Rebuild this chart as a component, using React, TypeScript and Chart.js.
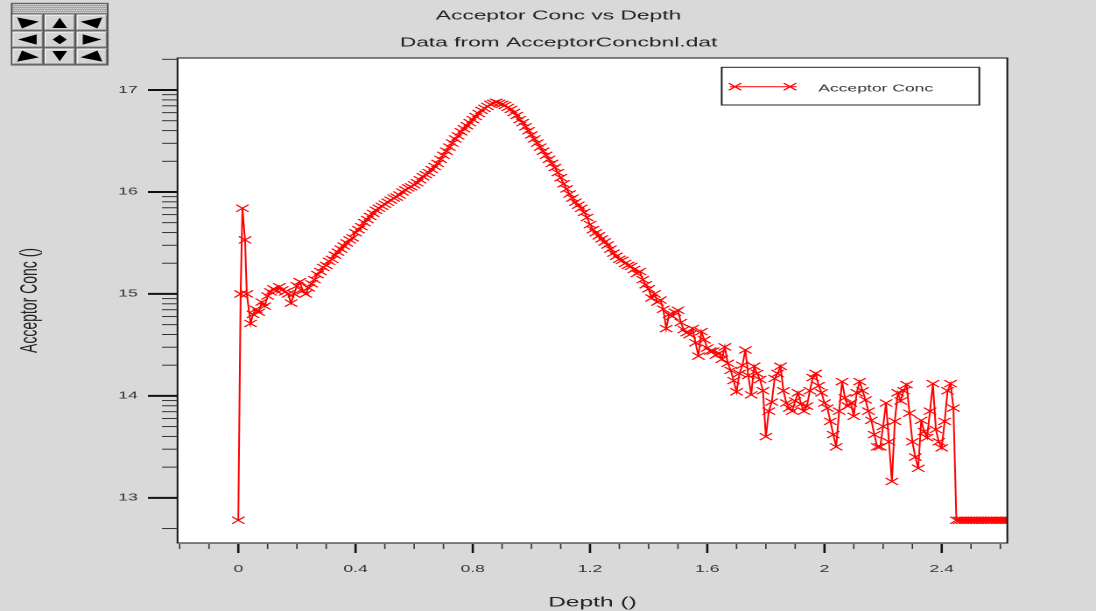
import { useEffect, useRef } from "react";
import { Chart, registerables } from "chart.js";

Chart.register(...registerables);

// ---------- text ----------
const TITLE = "Acceptor Conc vs Depth";
const SUBTITLE = "Data from AcceptorConcbnl.dat";
const SERIES_LABEL = "Acceptor Conc";
const X_TITLE = "Depth ()";
const Y_TITLE = "Acceptor Conc ()";

// ---------- axes ----------
const X_MIN = -0.2074;
const X_MAX = 2.6238;
const Y_MIN = 12.557;
const Y_MAX = 17.314;
const X_MAJOR_TICKS = [0, 0.4, 0.8, 1.2, 1.6, 2, 2.4];
const X_TICK_LABELS = ["0", "0.4", "0.8", "1.2", "1.6", "2", "2.4"];
const X_MINOR_TICKS = [-0.2, -0.1, 0.1, 0.2, 0.3, 0.5, 0.6, 0.7, 0.9, 1.0, 1.1, 1.3, 1.4, 1.5, 1.7, 1.8, 1.9, 2.1, 2.2, 2.3, 2.5, 2.6];
const Y_MAJOR_TICKS = [13, 14, 15, 16, 17];
const Y_TICK_LABELS = ["13", "14", "15", "16", "17"];
const Y_MINOR_DECADES = [13, 14, 15, 16];
const Y_MINOR_MULTIPLES = [2, 3, 4, 5, 6, 7, 8, 9];
const Y_EXTRA_MINOR = [12 + Math.log10(5), 17 + Math.log10(2)];

// ---------- data (log10 of acceptor concentration vs depth) ----------
const HEAD_DEPTH = [0, 0.008, 0.014, 0.023, 0.029, 0.042];
const HEAD_CONC = [12.78, 15.0, 15.84, 15.53, 15.0, 14.71];

const BODY_START = 0.05;
const BODY_STEP = 0.01;
const BODY_CONC = [
  14.80, 14.85, 14.82, 14.92, 14.88, 14.98, 15.02, 15.05, 15.03, 15.07,
  15.04, 15.02, 15.00, 14.91, 15.00, 15.08, 15.12, 15.03, 15.00, 15.06,
  15.10, 15.14, 15.19, 15.22, 15.26, 15.28, 15.32, 15.34, 15.38, 15.41,
  15.44, 15.47, 15.50, 15.53, 15.55, 15.60, 15.63, 15.66, 15.70, 15.73,
  15.76, 15.79, 15.82, 15.84, 15.86, 15.88, 15.90, 15.92, 15.94, 15.95,
  15.97, 16.00, 16.02, 16.04, 16.05, 16.07, 16.09, 16.12, 16.15, 16.17,
  16.19, 16.22, 16.25, 16.28, 16.32, 16.36, 16.40, 16.44, 16.48, 16.52,
  16.55, 16.59, 16.62, 16.65, 16.68, 16.71, 16.74, 16.77, 16.80, 16.82,
  16.84, 16.86, 16.87, 16.88, 16.87, 16.86, 16.85, 16.83, 16.81, 16.78,
  16.75, 16.71, 16.68, 16.64, 16.60, 16.56, 16.52, 16.48, 16.44, 16.40,
  16.36, 16.32, 16.28, 16.24, 16.19, 16.14, 16.08, 16.03, 15.98, 15.94,
  15.90, 15.87, 15.84, 15.80, 15.75, 15.68, 15.63, 15.60, 15.57, 15.54,
  15.51, 15.48, 15.44, 15.40, 15.37, 15.34, 15.33, 15.30, 15.28, 15.27,
  15.24, 15.20, 15.22, 15.14, 15.09, 15.05, 14.96, 15.00, 14.92, 14.94,
  14.85, 14.66, 14.80, 14.78, 14.82, 14.84, 14.72, 14.65, 14.62, 14.60,
  14.66, 14.52, 14.39, 14.63, 14.55, 14.47, 14.44, 14.44, 14.40, 14.42,
  14.36, 14.48, 14.32, 14.25, 14.15, 14.04, 14.22, 14.30, 14.45, 14.20,
  14.01, 14.29, 14.22, 14.16, 14.05, 13.60, 13.85, 13.94, 14.17, 14.22,
  14.29, 14.05, 13.93, 13.88, 13.85, 13.95, 14.03, 13.92, 13.85, 13.90,
  14.05, 14.18, 14.22, 14.10, 14.03, 13.93, 13.88, 13.75, 13.62, 13.50,
  13.85, 14.14, 13.98, 13.90, 13.93, 13.80, 14.03, 14.14, 14.05, 13.96,
  13.85, 13.76, 13.62, 13.50, 13.50, 13.70, 13.93, 13.55, 13.16, 13.75,
  14.03, 13.95, 14.05, 14.11, 13.83, 13.55, 13.40, 13.29, 13.76, 13.65,
  13.59, 13.85, 14.12, 13.67, 13.55, 13.49, 13.75, 14.05, 14.12, 13.88,
];

const TAIL_START = 2.45;
const TAIL_STEP = 0.01;
const TAIL_CONC = [
  12.78, 12.78, 12.78, 12.78, 12.78, 12.78, 12.78, 12.78, 12.78, 12.78,
  12.78, 12.78, 12.78, 12.78, 12.78, 12.78, 12.78, 12.78, 12.78, 12.78,
];

// ---------- look ----------
const W_INT = 626; // internal canvas width, CSS-stretched to 1096
const H = 611;
const S = 1096 / W_INT;
const BG = "#d9d9d9";
const RED = "#ff0000";
const FONT = '"Liberation Sans", Arial, Helvetica, sans-serif';

function buildPoints() {
  const pts: { x: number; y: number }[] = [];
  HEAD_DEPTH.forEach((d, i) => pts.push({ x: d, y: HEAD_CONC[i] }));
  BODY_CONC.forEach((v, i) => pts.push({ x: +(BODY_START + i * BODY_STEP).toFixed(4), y: v }));
  TAIL_CONC.forEach((v, i) => pts.push({ x: +(TAIL_START + i * TAIL_STEP).toFixed(4), y: v }));
  return pts;
}

function drawCrossRot(ctx: CanvasRenderingContext2D, x: number, y: number, r: number) {
  const o = r * Math.SQRT1_2;
  ctx.beginPath();
  ctx.moveTo(x - o, y - o);
  ctx.lineTo(x + o, y + o);
  ctx.moveTo(x - o, y + o);
  ctx.lineTo(x + o, y - o);
  ctx.stroke();
}

function drawNav(ctx: CanvasRenderingContext2D) {
  const cols = [11.7, 43.7, 75.7, 107.7].map((v) => v / S);
  const rows = [14, 31, 48, 65];
  const x0 = cols[0];
  const x1 = cols[3];
  // title bar (dotted)
  ctx.fillStyle = "#a5a5a5";
  ctx.fillRect(x0, 3.3, x1 - x0, 10.7);
  ctx.fillStyle = "#e6e6e6";
  for (let yy = 4; yy < 14; yy += 2) {
    const shift = ((yy / 2) % 2) * 0.6;
    for (let xx = x0 + shift; xx < x1 - 0.5; xx += 1.2) ctx.fillRect(xx, yy, 0.6, 1);
  }
  ctx.strokeStyle = "#555";
  ctx.lineWidth = 1;
  ctx.strokeRect(x0, 3.3, x1 - x0, 10.7);

  const base = [
    [[0.17, 0.2], [0.85, 0.45], [0.32, 0.85]],
    [[0.27, 0.82], [0.5, 0.22], [0.73, 0.82]],
    null,
    [[0.2, 0.5], [0.78, 0.2], [0.78, 0.8]],
    [[0.5, 0.22], [0.72, 0.5], [0.5, 0.78], [0.28, 0.5]],
    null,
    null,
    null,
    null,
  ] as (number[][] | null)[];
  const shapes: number[][][] = [];
  shapes[0] = base[0]!;
  shapes[1] = base[1]!;
  shapes[2] = base[0]!.map(([u, v]) => [1 - u, v]);
  shapes[3] = base[3]!;
  shapes[4] = base[4]!;
  shapes[5] = base[3]!.map(([u, v]) => [1 - u, v]);
  shapes[6] = base[0]!.map(([u, v]) => [u, 1 - v]);
  shapes[7] = base[1]!.map(([u, v]) => [u, 1 - v]);
  shapes[8] = base[0]!.map(([u, v]) => [1 - u, 1 - v]);

  for (let r = 0; r < 3; r++) {
    for (let c = 0; c < 3; c++) {
      const bx = cols[c];
      const by = rows[r];
      const bw = cols[c + 1] - cols[c];
      const bh = rows[r + 1] - rows[r];
      ctx.fillStyle = "#d4d4d4";
      ctx.fillRect(bx, by, bw, bh);
      ctx.strokeStyle = "#ffffff";
      ctx.lineWidth = 1;
      ctx.beginPath();
      ctx.moveTo(bx + 0.6, by + bh - 1);
      ctx.lineTo(bx + 0.6, by + 1);
      ctx.lineTo(bx + bw - 0.6, by + 1);
      ctx.stroke();
      ctx.strokeStyle = "#7a7a7a";
      ctx.beginPath();
      ctx.moveTo(bx + bw - 0.6, by + 1);
      ctx.lineTo(bx + bw - 0.6, by + bh - 1);
      ctx.lineTo(bx + 0.6, by + bh - 1);
      ctx.stroke();
      ctx.strokeStyle = "#555";
      ctx.strokeRect(bx, by, bw, bh);
      const sh = shapes[r * 3 + c];
      ctx.fillStyle = "#000";
      ctx.beginPath();
      sh.forEach(([u, v], i) => {
        const px = bx + u * bw;
        const py = by + v * bh;
        if (i === 0) ctx.moveTo(px, py);
        else ctx.lineTo(px, py);
      });
      ctx.closePath();
      ctx.fill();
    }
  }
}

const framePlugin = {
  id: "frame",
  beforeDraw(chart: any) {
    const { ctx, chartArea: a, width, height } = chart;
    ctx.save();
    ctx.fillStyle = BG;
    ctx.fillRect(0, 0, width, height);
    ctx.fillStyle = "#ffffff";
    ctx.fillRect(a.left, a.top, a.right - a.left, a.bottom - a.top);
    ctx.restore();
  },
  afterDraw(chart: any) {
    const { ctx, chartArea: a } = chart;
    const xs = chart.scales.x;
    const ys = chart.scales.y;
    ctx.save();

    // plot frame
    ctx.strokeStyle = "#111";
    ctx.lineWidth = 1;
    ctx.strokeRect(a.left, a.top, a.right - a.left, a.bottom - a.top);

    // y ticks
    ctx.strokeStyle = "#111";
    ctx.lineWidth = 2;
    Y_MAJOR_TICKS.forEach((v) => {
      const p = ys.getPixelForValue(v);
      ctx.beginPath();
      ctx.moveTo(148 / S, p);
      ctx.lineTo(a.left, p);
      ctx.stroke();
    });
    const yMinor: number[] = [];
    Y_MINOR_DECADES.forEach((d) => Y_MINOR_MULTIPLES.forEach((m) => yMinor.push(d + Math.log10(m))));
    Y_EXTRA_MINOR.forEach((v) => yMinor.push(v));
    ctx.strokeStyle = "#333";
    ctx.lineWidth = 1;
    yMinor.forEach((v) => {
      const p = ys.getPixelForValue(v);
      ctx.beginPath();
      ctx.moveTo(162 / S, p);
      ctx.lineTo(a.left, p);
      ctx.stroke();
    });

    // x ticks
    ctx.strokeStyle = "#111";
    ctx.lineWidth = 1.3;
    X_MAJOR_TICKS.forEach((v) => {
      const p = xs.getPixelForValue(v);
      ctx.beginPath();
      ctx.moveTo(p, a.bottom + 1);
      ctx.lineTo(p, 553);
      ctx.stroke();
    });
    ctx.strokeStyle = "#333";
    ctx.lineWidth = 0.8;
    X_MINOR_TICKS.forEach((v) => {
      const p = xs.getPixelForValue(v);
      ctx.beginPath();
      ctx.moveTo(p, a.bottom + 1);
      ctx.lineTo(p, 549);
      ctx.stroke();
    });

    // legend
    const lx0 = 721.7 / S;
    const lx1 = 979.3 / S;
    ctx.fillStyle = "#ffffff";
    ctx.fillRect(lx0, 67.3, lx1 - lx0, 37.7);
    ctx.strokeStyle = "#222";
    ctx.lineWidth = 1;
    ctx.strokeRect(lx0, 67.3, lx1 - lx0, 37.7);
    ctx.strokeStyle = RED;
    ctx.lineWidth = 1;
    ctx.beginPath();
    ctx.moveTo(730 / S, 86.7);
    ctx.lineTo(796.7 / S, 86.7);
    ctx.stroke();
    drawCrossRot(ctx, 735 / S, 86.7, 5);
    drawCrossRot(ctx, 790 / S, 86.7, 5);
    ctx.fillStyle = "#333";
    ctx.font = `10px ${FONT}`;
    ctx.textAlign = "left";
    ctx.textBaseline = "middle";
    ctx.fillText(SERIES_LABEL, 818.3 / S, 88.5);

    // titles
    ctx.fillStyle = "#222";
    ctx.font = `13px ${FONT}`;
    ctx.textAlign = "center";
    ctx.textBaseline = "middle";
    ctx.fillText(TITLE, 558.5 / S, 16);
    ctx.fillText(SUBTITLE, 558.5 / S, 43);

    drawNav(ctx);
    ctx.restore();
  },
};

export default function App() {
  const ref = useRef<HTMLCanvasElement>(null);
  useEffect(() => {
    const canvas = ref.current;
    if (!canvas) return;
    const chart = new Chart(canvas, {
      type: "line",
      data: {
        datasets: [
          {
            label: SERIES_LABEL,
            data: buildPoints(),
            borderColor: RED,
            backgroundColor: RED,
            borderWidth: 1,
            pointStyle: "crossRot",
            pointRadius: 5,
            pointBorderColor: RED,
            pointBorderWidth: 1,
            tension: 0,
            fill: false,
            clip: 0,
          } as any,
        ],
      },
      options: {
        responsive: false,
        animation: false,
        devicePixelRatio: 2,
        events: [],
        layout: { padding: { left: 0, top: 58, right: W_INT - 1007.3 / S, bottom: 0 } },
        plugins: {
          legend: { display: false },
          title: { display: false },
          tooltip: { enabled: false },
        },
        scales: {
          x: {
            type: "linear",
            position: "bottom",
            min: X_MIN,
            max: X_MAX,
            grid: { display: false, drawTicks: false },
            border: { display: false },
            afterBuildTicks: (s: any) => {
              s.ticks = X_MAJOR_TICKS.map((v) => ({ value: v }));
            },
            afterFit: (s: any) => {
              s.height = H - 543;
            },
            ticks: {
              autoSkip: false,
              maxRotation: 0,
              minRotation: 0,
              padding: 20,
              color: "#333",
              font: { family: FONT, size: 10 },
              callback: (v: any) => {
                const i = X_MAJOR_TICKS.findIndex((t) => Math.abs(t - Number(v)) < 1e-6);
                return i >= 0 ? X_TICK_LABELS[i] : "";
              },
            },
            title: {
              display: true,
              text: X_TITLE,
              color: "#222",
              font: { family: FONT, size: 14 },
              padding: { top: 0, bottom: 0 },
            },
          },
          y: {
            type: "linear",
            position: "left",
            min: Y_MIN,
            max: Y_MAX,
            grid: { display: false, drawTicks: false },
            border: { display: false },
            afterBuildTicks: (s: any) => {
              s.ticks = Y_MAJOR_TICKS.map((v) => ({ value: v }));
            },
            afterFit: (s: any) => {
              s.width = 177.5 / S;
            },
            ticks: {
              autoSkip: false,
              padding: 177.5 / S - 137.7 / S,
              color: "#333",
              font: { family: FONT, size: 10 },
              callback: (v: any) => {
                const i = Y_MAJOR_TICKS.indexOf(Number(v));
                return i >= 0 ? Y_TICK_LABELS[i] : "";
              },
            },
            title: {
              display: true,
              text: Y_TITLE,
              color: "#222",
              font: { family: FONT, size: 14 },
              padding: { top: 30 / S - 8.4, bottom: 0 },
            },
          },
        },
      },
      plugins: [framePlugin],
    } as any);
    return () => chart.destroy();
  }, []);

  return (
    <div
      style={{
        position: "fixed",
        left: 0,
        top: 0,
        width: 1096,
        height: 611,
        background: BG,
        overflow: "hidden",
      }}
    >
      <canvas
        ref={ref}
        width={W_INT}
        height={H}
        style={{ width: "1096px", height: "611px", display: "block" }}
      />
    </div>
  );
}
